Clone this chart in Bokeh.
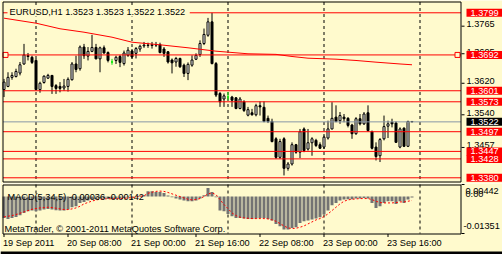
from bokeh.plotting import figure
from bokeh.models import Range1d, Label, LabelSet, ColumnDataSource, Span
from bokeh.layouts import column
from bokeh.core.properties import value
from bokeh.embed import file_html
from bokeh.resources import INLINE

BG = "#fffacd"
FONT = "Liberation Sans"
FS = "9.2px"

# ---------------- data ----------------
bar_index = list(range(103))
opens = [1.3604, 1.3612, 1.3635, 1.3637, 1.3646, 1.3669, 1.3690, 1.3686, 1.3678, 1.3604,
         1.3622, 1.3633, 1.3640, 1.3614, 1.3612, 1.3608, 1.3612, 1.3629, 1.3669, 1.3657,
         1.3712, 1.3689, 1.3701, 1.3711, 1.3682, 1.3710, 1.3698, 1.3674, 1.3678, 1.3688,
         1.3670, 1.3691, 1.3702, 1.3696, 1.3707, 1.3715, 1.3717, 1.3716, 1.3718, 1.3718,
         1.3707, 1.3700, 1.3679, 1.3674, 1.3683, 1.3666, 1.3645, 1.3666, 1.3681, 1.3693,
         1.3721, 1.3742, 1.3776, 1.3670, 1.3594, 1.3580, 1.3585, 1.3585, 1.3583, 1.3556,
         1.3573, 1.3539, 1.3545, 1.3540, 1.3563, 1.3559, 1.3531, 1.3523, 1.3479, 1.3432,
         1.3479, 1.3404, 1.3415, 1.3464, 1.3445, 1.3504, 1.3453, 1.3469, 1.3475, 1.3464,
         1.3458, 1.3481, 1.3504, 1.3534, 1.3525, 1.3534, 1.3531, 1.3514, 1.3492, 1.3530,
         1.3517, 1.3545, 1.3497, 1.3458, 1.3436, 1.3479, 1.3511, 1.3521, 1.3519, 1.3458,
         1.3506, 1.3460, 1.3523]
highs = [1.3631, 1.3648, 1.3648, 1.3657, 1.3674, 1.3720, 1.3697, 1.3690, 1.3682, 1.3624,
         1.3640, 1.3644, 1.3641, 1.3618, 1.3623, 1.3631, 1.3635, 1.3674, 1.3690, 1.3716,
         1.3720, 1.3712, 1.3743, 1.3720, 1.3713, 1.3716, 1.3701, 1.3682, 1.3690, 1.3692,
         1.3703, 1.3712, 1.3707, 1.3712, 1.3718, 1.3725, 1.3723, 1.3725, 1.3725, 1.3723,
         1.3712, 1.3702, 1.3683, 1.3687, 1.3685, 1.3670, 1.3673, 1.3691, 1.3696, 1.3729,
         1.3759, 1.3786, 1.3799, 1.3674, 1.3598, 1.3594, 1.3598, 1.3588, 1.3585, 1.3585,
         1.3577, 1.3560, 1.3555, 1.3568, 1.3574, 1.3574, 1.3538, 1.3530, 1.3483, 1.3479,
         1.3483, 1.3420, 1.3470, 1.3466, 1.3504, 1.3508, 1.3504, 1.3483, 1.3479, 1.3470,
         1.3487, 1.3525, 1.3572, 1.3564, 1.3547, 1.3542, 1.3534, 1.3517, 1.3534, 1.3542,
         1.3547, 1.3564, 1.3500, 1.3470, 1.3481, 1.3538, 1.3525, 1.3530, 1.3523, 1.3508,
         1.3508, 1.3525, 1.3523]
lows = [1.3585, 1.3610, 1.3629, 1.3635, 1.3640, 1.3667, 1.3678, 1.3669, 1.3602, 1.3596,
        1.3619, 1.3631, 1.3593, 1.3593, 1.3597, 1.3601, 1.3599, 1.3627, 1.3648, 1.3652,
        1.3682, 1.3678, 1.3699, 1.3681, 1.3648, 1.3695, 1.3673, 1.3667, 1.3669, 1.3661,
        1.3665, 1.3687, 1.3683, 1.3683, 1.3700, 1.3710, 1.3710, 1.3708, 1.3712, 1.3696,
        1.3687, 1.3670, 1.3645, 1.3662, 1.3659, 1.3636, 1.3628, 1.3662, 1.3679, 1.3687,
        1.3717, 1.3738, 1.3668, 1.3585, 1.3560, 1.3560, 1.3577, 1.3560, 1.3554, 1.3554,
        1.3547, 1.3536, 1.3538, 1.3536, 1.3538, 1.3521, 1.3519, 1.3470, 1.3428, 1.3428,
        1.3386, 1.3398, 1.3411, 1.3441, 1.3430, 1.3445, 1.3449, 1.3436, 1.3458, 1.3453,
        1.3453, 1.3477, 1.3503, 1.3521, 1.3517, 1.3521, 1.3508, 1.3479, 1.3489, 1.3513,
        1.3514, 1.3497, 1.3452, 1.3424, 1.3420, 1.3475, 1.3481, 1.3508, 1.3469, 1.3455,
        1.3458, 1.3458, 1.3522]
closes = [1.3623, 1.3635, 1.3640, 1.3650, 1.3667, 1.3692, 1.3688, 1.3673, 1.3604, 1.3620,
          1.3638, 1.3640, 1.3612, 1.3607, 1.3607, 1.3613, 1.3630, 1.3669, 1.3655, 1.3712,
          1.3690, 1.3701, 1.3711, 1.3682, 1.3710, 1.3697, 1.3678, 1.3674, 1.3686, 1.3673,
          1.3697, 1.3704, 1.3687, 1.3708, 1.3714, 1.3717, 1.3716, 1.3718, 1.3717, 1.3698,
          1.3696, 1.3674, 1.3672, 1.3683, 1.3662, 1.3645, 1.3668, 1.3679, 1.3691, 1.3721,
          1.3744, 1.3776, 1.3670, 1.3590, 1.3573, 1.3588, 1.3585, 1.3577, 1.3556, 1.3580,
          1.3551, 1.3553, 1.3540, 1.3563, 1.3560, 1.3523, 1.3523, 1.3472, 1.3432, 1.3472,
          1.3404, 1.3415, 1.3464, 1.3445, 1.3497, 1.3449, 1.3469, 1.3479, 1.3462, 1.3455,
          1.3483, 1.3504, 1.3531, 1.3523, 1.3538, 1.3530, 1.3513, 1.3492, 1.3530, 1.3517,
          1.3542, 1.3500, 1.3455, 1.3434, 1.3477, 1.3510, 1.3517, 1.3517, 1.3470, 1.3504,
          1.3460, 1.3523, 1.3522]

macd_main = [-0.00781, -0.00817, -0.00781, -0.00744, -0.00683, -0.00598, -0.00537, -0.00512, -0.00537, -0.00512,
             -0.00476, -0.00451, -0.00476, -0.00500, -0.00512, -0.00512, -0.00476, -0.00390, -0.00354, -0.00232,
             -0.00195, -0.00146, -0.00098, -0.00098, -0.00073, -0.00073, -0.00085, -0.00098, -0.00085, -0.00073,
             -0.00049, -0.00024, -0.00012, 0.00010, 0.00030, 0.00050, 0.00195, 0.00195, 0.00171, 0.00171,
             0.00134, 0.00037, -0.00024, -0.00073, -0.00110, -0.00146, -0.00171, -0.00171, -0.00146, -0.00073,
             0.00049, 0.00317, 0.00171, -0.00024, -0.00512, -0.00537, -0.00634, -0.00720, -0.00781, -0.00781,
             -0.00805, -0.00817, -0.00817, -0.00805, -0.00781, -0.00781, -0.00817, -0.00878, -0.01000, -0.01086,
             -0.01208, -0.01208, -0.01147, -0.01122, -0.00964, -0.00903, -0.00878, -0.00842, -0.00805, -0.00756,
             -0.00659, -0.00512, -0.00317, -0.00232, -0.00146, -0.00110, -0.00098, -0.00098, -0.00073, -0.00073,
             -0.00049, -0.00073, -0.00232, -0.00415, -0.00354, -0.00232, -0.00171, -0.00171, -0.00268, -0.00171,
             -0.00232, -0.00110, -0.00036]
macd_signal = [-0.00744, -0.00720, -0.00695, -0.00659, -0.00610, -0.00561, -0.00512, -0.00464, -0.00439, -0.00415,
               -0.00403, -0.00390, -0.00403, -0.00427, -0.00451, -0.00476, -0.00476, -0.00451, -0.00415, -0.00354,
               -0.00268, -0.00215, -0.00165, -0.00125, -0.00098, -0.00085, -0.00080, -0.00080, -0.00080, -0.00075,
               -0.00065, -0.00050, -0.00035, -0.00015, 0.00005, 0.00030, 0.00120, 0.00160, 0.00190, 0.00200,
               0.00190, 0.00150, 0.00100, 0.00050, 0.00000, -0.00050, -0.00100, -0.00120, -0.00110, -0.00073,
               0.00000, 0.00098, 0.00134, 0.00073, -0.00110, -0.00293, -0.00439, -0.00598, -0.00695, -0.00756,
               -0.00781, -0.00793, -0.00805, -0.00805, -0.00805, -0.00805, -0.00817, -0.00854, -0.00903, -0.00988,
               -0.01074, -0.01147, -0.01171, -0.01159, -0.01122, -0.01074, -0.01000, -0.00927, -0.00854, -0.00805,
               -0.00732, -0.00634, -0.00512, -0.00390, -0.00268, -0.00171, -0.00122, -0.00098, -0.00085, -0.00073,
               -0.00073, -0.00073, -0.00110, -0.00171, -0.00220, -0.00232, -0.00232, -0.00232, -0.00220, -0.00195,
               -0.00195, -0.00171, -0.00142]

ma_index = [0, 8, 14, 20, 27, 32, 39, 46, 53, 61, 68, 72, 76, 83, 88, 93, 99, 102]
ma_values = [1.37853, 1.37726, 1.37584, 1.37497, 1.37370, 1.37243, 1.37177, 1.37101, 1.37015,
             1.36949, 1.36934, 1.36880, 1.36837, 1.36812, 1.36779, 1.36736, 1.36690, 1.36670]

level_prices = [1.3799, 1.3692, 1.3601, 1.3573, 1.3497, 1.3447, 1.3428, 1.3380]
bid_price = 1.3522
price_ticks = [1.3765, 1.3695, 1.3620, 1.3540, 1.3457]
day_starts = [8, 32, 56, 80, 104]
time_tick_index = [0, 16, 32, 48, 64, 80, 96]
time_tick_labels = ["19 Sep 2011", "20 Sep 08:00", "21 Sep 00:00", "21 Sep 16:00",
                    "22 Sep 08:00", "23 Sep 00:00", "23 Sep 16:00"]
macd_max = 0.00442
macd_min = -0.01351
title_text = "EURUSD,H1  1.3523 1.3523 1.3522 1.3522"
macd_title = "MACD(5,34,5) -0.00036 -0.00142"
copyright_text = "MetaTrader, \u00a9 2001-2011 MetaQuotes Software Corp."

# ---------------- geometry helpers (pixel <-> data through the ranges) ----------------
W = 502
H_MAIN = 183
H_MACD = 71
PX_PER_BAR = 4.0
xs = -0.875
xe = xs + W / PX_PER_BAR
main_top, main_bot = 1.38302, 1.33655


def xd(px):
    return xs + px / PX_PER_BAR


def yd(py):
    return main_top - py * (main_top - main_bot) / H_MAIN


m_upp = (macd_max - macd_min) / 49.0
m_end = macd_max + 1 * m_upp
m_start = m_end - H_MACD * m_upp


def myd(py):
    return m_end - py * m_upp


def txt(**kw):
    base = dict(text_font=FONT, text_font_size=FS, text_color="black", text_baseline="middle",
                x_units="screen", y_units="screen")
    base.update(kw)
    return Label(**base)


x_range = Range1d(xs, xe)
common = dict(output_backend="svg", toolbar_location=None, x_axis_type=None, y_axis_type=None,
              min_border_left=0, min_border_right=0, min_border_top=0, min_border_bottom=0,
              background_fill_color=BG, border_fill_color=BG, outline_line_color=None)

# ---------------- main price panel ----------------
p = figure(width=W, height=H_MAIN, x_range=x_range, y_range=Range1d(main_bot, main_top), **common)
p.grid.visible = False

# vertical day separators
p.segment(x0=day_starts, x1=day_starts, y0=yd(1.5), y1=yd(181.5), line_color="black",
          line_dash="3 3", line_width=1)

body_top = [max(o, c) for o, c in zip(opens, closes)]
body_bot = [min(o, c) for o, c in zip(opens, closes)]
fills = ["white" if c > o else ("black" if c < o else "#00e000") for o, c in zip(opens, closes)]
lines = ["black" if c != o else "#00e000" for o, c in zip(opens, closes)]
src = ColumnDataSource(dict(i=bar_index, h=highs, l=lows, top=body_top, bot=body_bot,
                            fill=fills, line=lines))
p.segment(x0="i", y0="l", x1="i", y1="h", line_color="line", line_width=1, source=src)
p.vbar(x="i", width=0.5, top="top", bottom="bot", fill_color="fill", line_color="line",
       line_width=1, source=src)

p.line(ma_index, ma_values, line_color="red", line_width=1)

# horizontal level lines (chart area only)
n = len(level_prices)
p.segment(x0=[xd(2.5)] * n, x1=[xd(460.5)] * n, y0=level_prices, y1=level_prices,
          line_color="red", line_width=1)
p.segment(x0=[xd(2.5)], x1=[xd(460.5)], y0=[bid_price], y1=[bid_price],
          line_color="#8797a6", line_width=1)

# selection handles of the 1.3692 line
p.scatter([xd(5), xd(457)], [level_prices[1]] * 2, marker="square",
          size=5, line_color="red", fill_color=BG, line_width=1)

# panel frame and right price axis
p.segment(x0=[xd(2.5), xd(2.5), xd(2.5), xd(460.5)],
          x1=[xd(460.5), xd(460.5), xd(2.5), xd(460.5)],
          y0=[yd(1.5), yd(181.5), yd(1.5), yd(1.5)],
          y1=[yd(1.5), yd(181.5), yd(181.5), yd(181.5)],
          line_color="black", line_width=1)
k = len(price_ticks)
p.segment(x0=[xd(461)] * k, x1=[xd(464)] * k, y0=price_ticks, y1=price_ticks,
          line_color="black", line_width=1)
p.text(x=[xd(466)] * k, y=price_ticks, text=["%.4f" % t for t in price_ticks],
       text_font=value(FONT), text_font_size=value(FS), text_color="black",
       text_baseline="middle", text_align="left", y_offset=-2)

p.add_layout(txt(x=7, y=H_MAIN - 11, text=title_text, background_fill_color=BG,
                 padding=dict(left=2, right=2, top=0, bottom=0)))

for lv in level_prices:
    p.add_layout(txt(x=466, y=lv, y_units="data", text="%.4f" % lv, text_color="white",
                     background_fill_color="red",
                     padding=dict(left=4, right=6, top=1, bottom=1)))
p.add_layout(txt(x=466, y=bid_price, y_units="data", text="%.4f" % bid_price, text_color="white",
                 background_fill_color="black",
                 padding=dict(left=4, right=6, top=1, bottom=1)))

# ---------------- MACD panel ----------------
q = figure(width=W, height=H_MACD, x_range=x_range, y_range=Range1d(m_start, m_end), **common)
q.grid.visible = False

q.segment(x0=day_starts, x1=day_starts, y0=macd_max, y1=macd_min, line_color="black",
          line_dash="3 3", line_width=1)

msrc = ColumnDataSource(dict(i=bar_index,
                             top=[max(v, 0) for v in macd_main],
                             bot=[min(v, 0) for v in macd_main],
                             sig=macd_signal))
q.vbar(x="i", width=0.75, top="top", bottom="bot", fill_color="#737373", line_color=None,
       source=msrc)
q.line(x="i", y="sig", line_color="red", line_dash="2 2", line_width=1, source=msrc)

q.segment(x0=[xd(2.5), xd(2.5), xd(2.5), xd(460.5)],
          x1=[xd(460.5), xd(460.5), xd(2.5), xd(460.5)],
          y0=[myd(1.5), myd(50.5), myd(1.5), myd(1.5)],
          y1=[myd(1.5), myd(50.5), myd(50.5), myd(50.5)],
          line_color="black", line_width=1)
kt = len(time_tick_index)
q.segment(x0=time_tick_index, x1=time_tick_index, y0=[myd(50.5)] * kt, y1=[myd(53.5)] * kt,
          line_color="black", line_width=1)
q.segment(x0=[xd(461)] * 2, x1=[xd(464)] * 2, y0=[macd_max, macd_min], y1=[macd_max, macd_min],
          line_color="black", line_width=1)

q.add_layout(Span(location=1.5, location_units="screen", dimension="width",
                  line_color="black", line_width=3))

q.add_layout(txt(x=7, y=H_MACD - 13, text=macd_title))
q.add_layout(txt(x=4, y=H_MACD - 45, text=copyright_text))
q.add_layout(txt(x=465, y=H_MACD - 7.5, text="%.5f" % macd_max))
q.add_layout(txt(x=465, y=H_MACD - 10, text="%.2f" % 0.0))
q.add_layout(txt(x=463, y=H_MACD - 42.5, text="%.5f" % macd_min))

tsrc = ColumnDataSource(dict(i=time_tick_index, t=time_tick_labels))
q.add_layout(LabelSet(x="i", y=12, y_units="screen", text="t", source=tsrc,
                      text_font=value(FONT), text_font_size=value(FS), text_color="black",
                      text_align="left", text_baseline="middle", x_offset=-1))

layout = column(p, q, spacing=0)
open("out.html", "w").write(file_html(layout, INLINE))
